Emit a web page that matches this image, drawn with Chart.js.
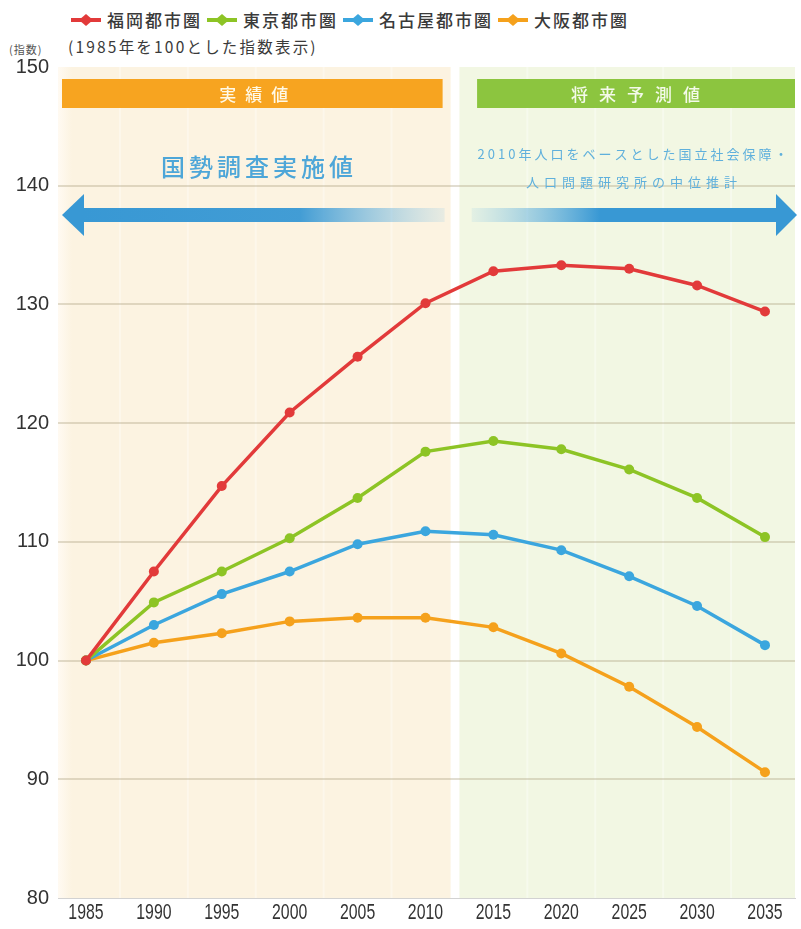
<!DOCTYPE html>
<html lang="ja">
<head>
<meta charset="utf-8">
<script src="https://cdn.jsdelivr.net/npm/chart.js@4.4.1/dist/chart.umd.min.js"></script>
<style>
  html, body { margin: 0; padding: 0; background: #fff; }
  body { width: 801px; height: 929px; position: relative; overflow: hidden;
         font-family: "Noto Sans CJK JP", "Noto Sans", sans-serif; }
  #c { position: absolute; left: 0; top: 0; }
  .legend { position: absolute; top: 7px; left: 70px; display: flex; align-items: center;
            font-size: 17px; color: #3a3a3a; font-weight: 500; letter-spacing: 2px; white-space: nowrap; }
  .legend .item { display: flex; align-items: center; margin-right: 4px; }
  .legend svg { margin-right: 5px; }
  .sub { position: absolute; top: 35px; left: 68px; font-size: 15.5px; letter-spacing: 2.2px; color: #3a3a3a; white-space: nowrap; }
  .unit { position: absolute; top: 41px; left: 9px; font-size: 11px; letter-spacing: 1px; color: #555; white-space: nowrap; }
</style>
</head>
<body>
<div class="legend" id="legend"></div>
<div class="unit">(指数)</div>
<div class="sub">(1985年を100とした指数表示)</div>
<canvas id="c" width="801" height="929"></canvas>
<script>
// ---- data ----
const years = [1985, 1990, 1995, 2000, 2005, 2010, 2015, 2020, 2025, 2030, 2035];
const seriesNames = ["福岡都市圏", "東京都市圏", "名古屋都市圏", "大阪都市圏"];
const fukuoka = [100, 107.5, 114.7, 120.9, 125.6, 130.1, 132.8, 133.3, 133.0, 131.6, 129.4];
const tokyo   = [100, 104.9, 107.5, 110.3, 113.7, 117.6, 118.5, 117.8, 116.1, 113.7, 110.4];
const nagoya  = [100, 103.0, 105.6, 107.5, 109.8, 110.9, 110.6, 109.3, 107.1, 104.6, 101.3];
const osaka   = [100, 101.5, 102.3, 103.3, 103.6, 103.6, 102.8, 100.6, 97.8, 94.4, 90.6];
const yTicks = [80, 90, 100, 110, 120, 130, 140, 150];
const actualLabel = "実績値";
const forecastLabel = "将来予測値";
const censusLabel = "国勢調査実施値";
const noteLines = ["2010年人口をベースとした国立社会保障・", "人口問題研究所の中位推計"];

const colors = ["#e23a3a", "#8dc425", "#3ba6de", "#f5a11c"];
const allSeries = [fukuoka, tokyo, nagoya, osaka];

// ---- HTML legend ----
const leg = document.getElementById('legend');
seriesNames.forEach((n, i) => {
  const it = document.createElement('div');
  it.className = 'item';
  it.innerHTML = `<svg width="32" height="14" viewBox="0 0 32 14"><line x1="1" y1="7" x2="31" y2="7" stroke="${colors[i]}" stroke-width="4"/><path d="M16 1 L23 7 L16 13 L9 7 Z" fill="${colors[i]}"/></svg><span>${n}</span>`;
  leg.appendChild(it);
});

const FONT_JP = '"Noto Sans CJK JP", "Noto Sans", sans-serif';

const decor = {
  id: 'decor',
  beforeDraw(chart) {
    const { ctx, chartArea: a, scales: { x } } = chart;
    ctx.save();
    const splitL = x.getPixelForValue(2011.85);
    const splitR = x.getPixelForValue(2012.5);
    let g = ctx.createLinearGradient(a.left, 0, a.left + 14, 0);
    g.addColorStop(0, '#fffaf2'); g.addColorStop(1, '#fcf3e1');
    ctx.fillStyle = g;
    ctx.fillRect(a.left, a.top, splitL - a.left, a.bottom - a.top);
    ctx.fillStyle = '#f2f7e3';
    ctx.fillRect(splitR, a.top, a.right - splitR, a.bottom - a.top);
    ctx.strokeStyle = 'rgba(255,255,255,0.35)';
    ctx.lineWidth = 2;
    years.forEach(yr => {
      const px = x.getPixelForValue(yr + 2.5);
      if (px < a.right - 5 && Math.abs(px - (splitL + splitR) / 2) > 10) {
        ctx.beginPath(); ctx.moveTo(px, a.top); ctx.lineTo(px, a.bottom); ctx.stroke();
      }
    });
    ctx.restore();
  },
  beforeDatasetsDraw(chart) {
    const { ctx, chartArea: a, scales: { x } } = chart;
    ctx.save();
    const splitL = x.getPixelForValue(2011.85);
    const bTop = a.top + 12, bH = 29;
    ctx.fillStyle = '#f7a420';
    ctx.fillRect(a.left + 4, bTop, splitL - 8 - (a.left + 4), bH);
    ctx.fillStyle = '#8cc53f';
    const gL = x.getPixelForValue(2013.8);
    ctx.fillRect(gL, bTop, a.right - gL, bH);
    ctx.fillStyle = '#fff9e6';
    ctx.font = '500 17px ' + FONT_JP;
    ctx.textAlign = 'center'; ctx.textBaseline = 'middle';
    ctx.letterSpacing = '9px';
    ctx.fillText(actualLabel, (a.left + splitL) / 2 + 4, bTop + bH / 2 + 1);
    ctx.fillStyle = '#f4faea';
    ctx.letterSpacing = '11px';
    ctx.fillText(forecastLabel, (gL + a.right) / 2 + 5, bTop + bH / 2 + 1);

    ctx.letterSpacing = '4px';
    ctx.font = '500 24px ' + FONT_JP;
    ctx.fillStyle = '#4da6d8';
    ctx.fillText(censusLabel, 259, a.top + 100);
    ctx.letterSpacing = '3px';
    ctx.font = '13px ' + FONT_JP;
    ctx.fillStyle = '#5fb0dc';
    ctx.fillText(noteLines[0], 634, a.top + 87);
    ctx.letterSpacing = '5px';
    ctx.fillText(noteLines[1], 634, a.top + 115);
    ctx.letterSpacing = '0px';

    const ay = a.top + 148, bh = 14, hh = 21;
    let g = ctx.createLinearGradient(82, 0, splitL - 6, 0);
    g.addColorStop(0, 'rgba(56,152,212,1)');
    g.addColorStop(0.6, 'rgba(56,152,212,0.95)');
    g.addColorStop(1, 'rgba(120,190,230,0.15)');
    ctx.fillStyle = g;
    ctx.fillRect(82, ay - bh / 2, splitL - 6 - 82, bh);
    ctx.fillStyle = '#3898d4';
    ctx.beginPath();
    ctx.moveTo(a.left + 4, ay); ctx.lineTo(84, ay - hh); ctx.lineTo(84, ay + hh); ctx.closePath(); ctx.fill();
    const rs = x.getPixelForValue(2013.4);
    g = ctx.createLinearGradient(rs, 0, 600, 0);
    g.addColorStop(0, 'rgba(120,190,230,0.12)');
    g.addColorStop(1, 'rgba(56,152,212,1)');
    ctx.fillStyle = g;
    ctx.fillRect(rs, ay - bh / 2, 778 - rs, bh);
    ctx.fillStyle = '#3898d4';
    ctx.beginPath();
    ctx.moveTo(a.right + 2, ay); ctx.lineTo(776, ay - hh); ctx.lineTo(776, ay + hh); ctx.closePath(); ctx.fill();
    ctx.restore();
  },
  afterDraw(chart) {
    const { ctx, chartArea: a, scales: { x } } = chart;
    ctx.save();
    ctx.fillStyle = '#333';
    ctx.font = '22px "Liberation Sans", Arial, sans-serif';
    ctx.textAlign = 'center'; ctx.textBaseline = 'middle';
    x.ticks.forEach(t => {
      const px = x.getPixelForValue(t.value);
      ctx.save();
      ctx.translate(px, a.bottom + 15);
      ctx.scale(0.72, 1);
      ctx.fillText(String(t.value), 0, 0);
      ctx.restore();
    });
    ctx.restore();
  }
};

const datasets = allSeries.map((d, i) => ({
  label: seriesNames[i],
  data: years.map((yr, j) => ({ x: yr, y: d[j] })),
  borderColor: colors[i],
  backgroundColor: colors[i],
  borderWidth: 3.5,
  pointRadius: 5,
  pointBorderWidth: 0,
  pointBackgroundColor: colors[i],
  tension: 0
}));

new Chart(document.getElementById('c'), {
  type: 'line',
  data: { datasets },
  options: {
    responsive: false,
    animation: false,
    layout: { padding: { top: 67, right: 6, left: 0, bottom: 0 } },
    plugins: { legend: { display: false }, tooltip: { enabled: false } },
    scales: {
      x: {
        type: 'linear', min: 1982.94, max: 2037.21,
        afterBuildTicks: ax => { ax.ticks = years.map(v => ({ value: v })); },
        afterFit: ax => { ax.height = 31; },
        grid: { display: false, drawTicks: false },
        border: { display: true, color: '#d2d2d2', width: 1 },
        ticks: {
          padding: 4, color: 'rgba(0,0,0,0)',
          font: { family: '"Liberation Sans", Arial, sans-serif', size: 20 },
          callback: v => String(v), maxRotation: 0, autoSkip: false
        }
      },
      y: {
        min: 80, max: 150,
        afterBuildTicks: ax => { ax.ticks = yTicks.map(v => ({ value: v })); },
        afterFit: ax => { ax.width = 58; },
        grid: {
          drawTicks: false, lineWidth: 2,
          color: c => (c.tick.value === 150 || c.tick.value === 80) ? 'rgba(0,0,0,0)' : 'rgba(175,165,135,0.38)'
        },
        border: { display: false },
        ticks: {
          padding: 9, color: '#333',
          font: { family: '"Liberation Sans", Arial, sans-serif', size: 20 }
        }
      }
    }
  },
  plugins: [decor]
});
</script>
</body>
</html>
